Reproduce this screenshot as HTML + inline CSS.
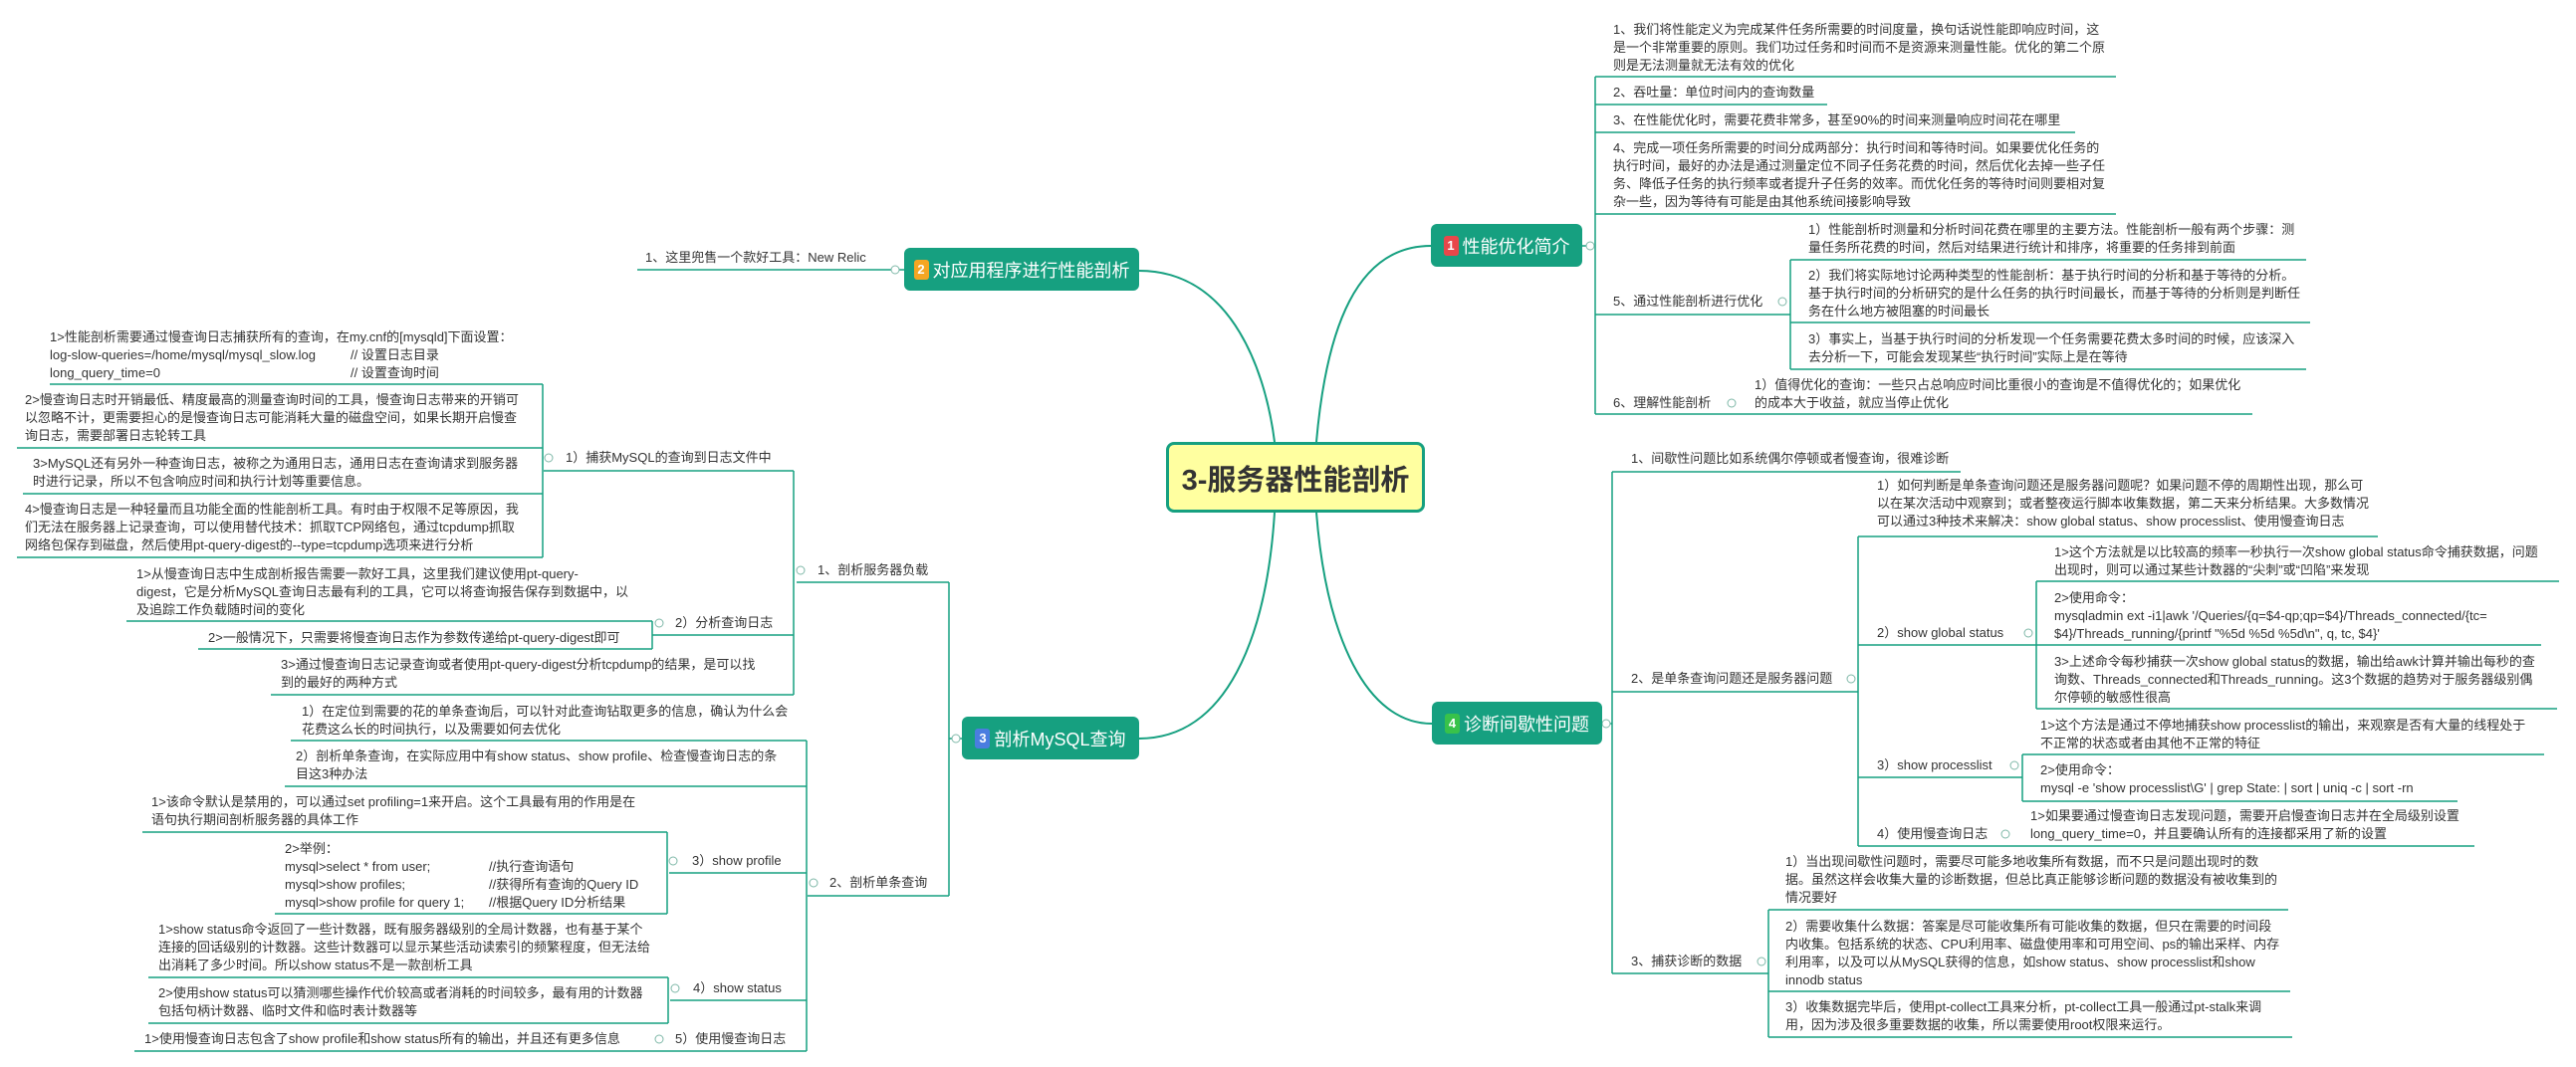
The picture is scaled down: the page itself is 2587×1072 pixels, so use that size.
<!DOCTYPE html>
<html><head><meta charset="utf-8">
<style>
body{margin:0;width:2587px;height:1072px;background:#fff;position:relative;overflow:hidden;font-family:"Liberation Sans","Noto Sans CJK SC",sans-serif;}
.t{position:absolute;font-size:13px;line-height:18px;color:#333;white-space:nowrap;}
.topic{position:absolute;background:#16a080;border-radius:6px;color:#fff;font-size:18px;display:flex;align-items:center;justify-content:center;box-sizing:border-box;white-space:nowrap;}
.b{display:inline-block;width:15px;height:20px;line-height:20px;border-radius:3px;color:#fff;font-size:13px;text-align:center;margin-right:4px;font-weight:bold;}
.center{position:absolute;left:1171px;top:444px;width:260px;height:71px;background:#ffffa0;border:3px solid #16a080;border-radius:8px;box-sizing:border-box;display:flex;align-items:center;justify-content:center;font-size:29px;font-weight:bold;color:#333;white-space:nowrap;}
svg{position:absolute;left:0;top:0;}
</style></head><body>
<svg width="2587" height="1072" fill="none" stroke="#16a080" stroke-width="1.5">
<g stroke-width="2">
<path d="M1144 272 C1240 272 1272 380 1280 444"/>
<path d="M1322 444 C1332 330 1362 247 1437 247"/>
<path d="M1280 515 C1272 640 1232 742 1144 742"/>
<path d="M1322 515 C1332 640 1372 727 1438 727"/>
</g>
<!-- node1 -->
<path d="M1589 247H1602 M1602 77V416 M1602 77H2125 M1602 105H1835 M1602 133H2084 M1602 215H2125 M1602 316H1798 M1602 416H2262"/>
<path d="M1798 261V371 M1798 261H2316 M1798 324H2320 M1798 371H2316"/>
<!-- node4 -->
<path d="M1609 727H1619 M1619 474V978 M1619 474H1969 M1619 695H1866 M1619 978H1776"/>
<path d="M1866 539V850 M1866 539H2388 M1866 648H2045 M1866 781H2031 M1866 850H2485"/>
<path d="M2045 584V712 M2045 584H2570 M2045 648H2552 M2045 712H2568"/>
<path d="M2031 758V805 M2031 758H2555 M2031 805H2468"/>
<path d="M1776 914V1042 M1776 914H2298 M1776 996H2300 M1776 1042H2302"/>
<!-- node2 -->
<path d="M640 271H908"/>
<!-- node3 -->
<path d="M966 742H953 M953 585V900 M800 585H953 M811 900H953"/>
<path d="M797 473V698 M546 473H797 M655 638H797 M272 698H797"/>
<path d="M545 386V560 M50 386H545 M17 450H545 M23 496H545 M17 560H545"/>
<path d="M655 624V652 M127 624H655 M199 652H655"/>
<path d="M810 744V1056 M292 744H810 M286 790H810 M672 877H810 M673 1005H810 M135 1056H810"/>
<path d="M670 836V918 M143 836H670 M276 918H670"/>
<path d="M671 982V1028 M149 982H671 M149 1028H671"/>
<g fill="#fff" stroke="#7fb8a8" stroke-width="1">
<circle cx="1597" cy="247" r="4"/><circle cx="1790" cy="303" r="4"/><circle cx="1739" cy="405" r="4"/>
<circle cx="1613" cy="727" r="4"/><circle cx="1859" cy="682" r="4"/><circle cx="2037" cy="636" r="4"/><circle cx="2023" cy="769" r="4"/><circle cx="2014" cy="838" r="4"/><circle cx="1769" cy="966" r="4"/>
<circle cx="899" cy="271" r="4"/><circle cx="960" cy="742" r="4"/><circle cx="804" cy="573" r="4"/><circle cx="817" cy="887" r="4"/><circle cx="551" cy="460" r="4"/><circle cx="662" cy="626" r="4"/><circle cx="676" cy="865" r="4"/><circle cx="678" cy="993" r="4"/><circle cx="662" cy="1044" r="4"/>
</g>
</svg>

<div class="center">3-服务器性能剖析</div>
<div class="topic" style="left:1437px;top:225px;width:152px;height:43px;"><span class="b" style="background:#e8474a">1</span>性能优化简介</div>
<div class="topic" style="left:908px;top:249px;width:236px;height:43px;"><span class="b" style="background:#f5a623">2</span>对应用程序进行性能剖析</div>
<div class="topic" style="left:966px;top:720px;width:178px;height:43px;"><span class="b" style="background:#4a7de0">3</span>剖析MySQL查询</div>
<div class="topic" style="left:1438px;top:705px;width:171px;height:43px;"><span class="b" style="background:#38c24a">4</span>诊断间歇性问题</div>

<!-- node1 children -->
<div class="t" style="left:1620px;top:21px">1、我们将性能定义为完成某件任务所需要的时间度量，换句话说性能即响应时间，这<br>是一个非常重要的原则。我们功过任务和时间而不是资源来测量性能。优化的第二个原<br>则是无法测量就无法有效的优化</div>
<div class="t" style="left:1620px;top:84px">2、吞吐量：单位时间内的查询数量</div>
<div class="t" style="left:1620px;top:112px">3、在性能优化时，需要花费非常多，甚至90%的时间来测量响应时间花在哪里</div>
<div class="t" style="left:1620px;top:140px">4、完成一项任务所需要的时间分成两部分：执行时间和等待时间。如果要优化任务的<br>执行时间，最好的办法是通过测量定位不同子任务花费的时间，然后优化去掉一些子任<br>务、降低子任务的执行频率或者提升子任务的效率。而优化任务的等待时间则要相对复<br>杂一些，因为等待有可能是由其他系统间接影响导致</div>
<div class="t" style="left:1620px;top:294px">5、通过性能剖析进行优化</div>
<div class="t" style="left:1816px;top:222px">1）性能剖析时测量和分析时间花费在哪里的主要方法。性能剖析一般有两个步骤：测<br>量任务所花费的时间，然后对结果进行统计和排序，将重要的任务排到前面</div>
<div class="t" style="left:1816px;top:268px">2）我们将实际地讨论两种类型的性能剖析：基于执行时间的分析和基于等待的分析。<br>基于执行时间的分析研究的是什么任务的执行时间最长，而基于等待的分析则是判断任<br>务在什么地方被阻塞的时间最长</div>
<div class="t" style="left:1816px;top:332px">3）事实上，当基于执行时间的分析发现一个任务需要花费太多时间的时候，应该深入<br>去分析一下，可能会发现某些“执行时间”实际上是在等待</div>
<div class="t" style="left:1620px;top:396px">6、理解性能剖析</div>
<div class="t" style="left:1762px;top:378px">1）值得优化的查询：一些只占总响应时间比重很小的查询是不值得优化的；如果优化<br>的成本大于收益，就应当停止优化</div>

<!-- node4 children -->
<div class="t" style="left:1638px;top:452px">1、间歇性问题比如系统偶尔停顿或者慢查询，很难诊断</div>
<div class="t" style="left:1885px;top:479px">1）如何判断是单条查询问题还是服务器问题呢？如果问题不停的周期性出现，那么可<br>以在某次活动中观察到；或者整夜运行脚本收集数据，第二天来分析结果。大多数情况<br>可以通过3种技术来解决：show global status、show processlist、使用慢查询日志</div>
<div class="t" style="left:1638px;top:673px">2、是单条查询问题还是服务器问题</div>
<div class="t" style="left:1885px;top:627px">2）show global status</div>
<div class="t" style="left:2063px;top:546px">1&gt;这个方法就是以比较高的频率一秒执行一次show global status命令捕获数据，问题<br>出现时，则可以通过某些计数器的“尖刺”或“凹陷”来发现</div>
<div class="t" style="left:2063px;top:592px">2&gt;使用命令：<br>mysqladmin ext -i1|awk '/Queries/{q=$4-qp;qp=$4}/Threads_connected/{tc=<br>$4}/Threads_running/{printf "%5d %5d %5d\n", q, tc, $4}'</div>
<div class="t" style="left:2063px;top:656px">3&gt;上述命令每秒捕获一次show global status的数据，输出给awk计算并输出每秒的查<br>询数、Threads_connected和Threads_running。这3个数据的趋势对于服务器级别偶<br>尔停顿的敏感性很高</div>
<div class="t" style="left:1885px;top:760px">3）show processlist</div>
<div class="t" style="left:2049px;top:720px">1&gt;这个方法是通过不停地捕获show processlist的输出，来观察是否有大量的线程处于<br>不正常的状态或者由其他不正常的特征</div>
<div class="t" style="left:2049px;top:765px">2&gt;使用命令：<br>mysql -e 'show processlist\G' | grep State: | sort | uniq -c | sort -rn</div>
<div class="t" style="left:1885px;top:829px">4）使用慢查询日志</div>
<div class="t" style="left:2039px;top:811px">1&gt;如果要通过慢查询日志发现问题，需要开启慢查询日志并在全局级别设置<br>long_query_time=0，并且要确认所有的连接都采用了新的设置</div>
<div class="t" style="left:1638px;top:957px">3、捕获诊断的数据</div>
<div class="t" style="left:1793px;top:857px">1）当出现间歇性问题时，需要尽可能多地收集所有数据，而不只是问题出现时的数<br>据。虽然这样会收集大量的诊断数据，但总比真正能够诊断问题的数据没有被收集到的<br>情况要好</div>
<div class="t" style="left:1793px;top:922px">2）需要收集什么数据：答案是尽可能收集所有可能收集的数据，但只在需要的时间段<br>内收集。包括系统的状态、CPU利用率、磁盘使用率和可用空间、ps的输出采样、内存<br>利用率，以及可以从MySQL获得的信息，如show status、show processlist和show<br>innodb status</div>
<div class="t" style="left:1793px;top:1003px">3）收集数据完毕后，使用pt-collect工具来分析，pt-collect工具一般通过pt-stalk来调<br>用，因为涉及很多重要数据的收集，所以需要使用root权限来运行。</div>

<!-- node2 -->
<div class="t" style="left:648px;top:250px">1、这里兜售一个款好工具：New Relic</div>

<!-- node3 -->
<div class="t" style="left:821px;top:564px">1、剖析服务器负载</div>
<div class="t" style="left:568px;top:451px">1）捕获MySQL的查询到日志文件中</div>
<div class="t" style="left:50px;top:330px">1&gt;性能剖析需要通过慢查询日志捕获所有的查询，在my.cnf的[mysqld]下面设置：<br>log-slow-queries=/home/mysql/mysql_slow.log<span style="position:absolute;left:302px">// 设置日志目录</span><br>long_query_time=0<span style="position:absolute;left:302px">// 设置查询时间</span></div>
<div class="t" style="left:25px;top:393px">2&gt;慢查询日志时开销最低、精度最高的测量查询时间的工具，慢查询日志带来的开销可<br>以忽略不计，更需要担心的是慢查询日志可能消耗大量的磁盘空间，如果长期开启慢查<br>询日志，需要部署日志轮转工具</div>
<div class="t" style="left:33px;top:457px">3&gt;MySQL还有另外一种查询日志，被称之为通用日志，通用日志在查询请求到服务器<br>时进行记录，所以不包含响应时间和执行计划等重要信息。</div>
<div class="t" style="left:25px;top:503px">4&gt;慢查询日志是一种轻量而且功能全面的性能剖析工具。有时由于权限不足等原因，我<br>们无法在服务器上记录查询，可以使用替代技术：抓取TCP网络包，通过tcpdump抓取<br>网络包保存到磁盘，然后使用pt-query-digest的--type=tcpdump选项来进行分析</div>
<div class="t" style="left:678px;top:617px">2）分析查询日志</div>
<div class="t" style="left:137px;top:568px">1&gt;从慢查询日志中生成剖析报告需要一款好工具，这里我们建议使用pt-query-<br>digest，它是分析MySQL查询日志最有利的工具，它可以将查询报告保存到数据中，以<br>及追踪工作负载随时间的变化</div>
<div class="t" style="left:209px;top:632px">2&gt;一般情况下，只需要将慢查询日志作为参数传递给pt-query-digest即可</div>
<div class="t" style="left:282px;top:659px">3&gt;通过慢查询日志记录查询或者使用pt-query-digest分析tcpdump的结果，是可以找<br>到的最好的两种方式</div>
<div class="t" style="left:833px;top:878px">2、剖析单条查询</div>
<div class="t" style="left:303px;top:706px">1）在定位到需要的花的单条查询后，可以针对此查询钻取更多的信息，确认为什么会<br>花费这么长的时间执行，以及需要如何去优化</div>
<div class="t" style="left:297px;top:751px">2）剖析单条查询，在实际应用中有show status、show profile、检查慢查询日志的条<br>目这3种办法</div>
<div class="t" style="left:695px;top:856px">3）show profile</div>
<div class="t" style="left:152px;top:797px">1&gt;该命令默认是禁用的，可以通过set profiling=1来开启。这个工具最有用的作用是在<br>语句执行期间剖析服务器的具体工作</div>
<div class="t" style="left:286px;top:844px">2&gt;举例：<br>mysql&gt;select * from user;<span style="position:absolute;left:205px">//执行查询语句</span><br>mysql&gt;show profiles;<span style="position:absolute;left:205px">//获得所有查询的Query ID</span><br>mysql&gt;show profile for query 1;<span style="position:absolute;left:205px">//根据Query ID分析结果</span></div>
<div class="t" style="left:696px;top:984px">4）show status</div>
<div class="t" style="left:159px;top:925px">1&gt;show status命令返回了一些计数器，既有服务器级别的全局计数器，也有基于某个<br>连接的回话级别的计数器。这些计数器可以显示某些活动读索引的频繁程度，但无法给<br>出消耗了多少时间。所以show status不是一款剖析工具</div>
<div class="t" style="left:159px;top:989px">2&gt;使用show status可以猜测哪些操作代价较高或者消耗的时间较多，最有用的计数器<br>包括句柄计数器、临时文件和临时表计数器等</div>
<div class="t" style="left:678px;top:1035px">5）使用慢查询日志</div>
<div class="t" style="left:145px;top:1035px">1&gt;使用慢查询日志包含了show profile和show status所有的输出，并且还有更多信息</div>
</body></html>
